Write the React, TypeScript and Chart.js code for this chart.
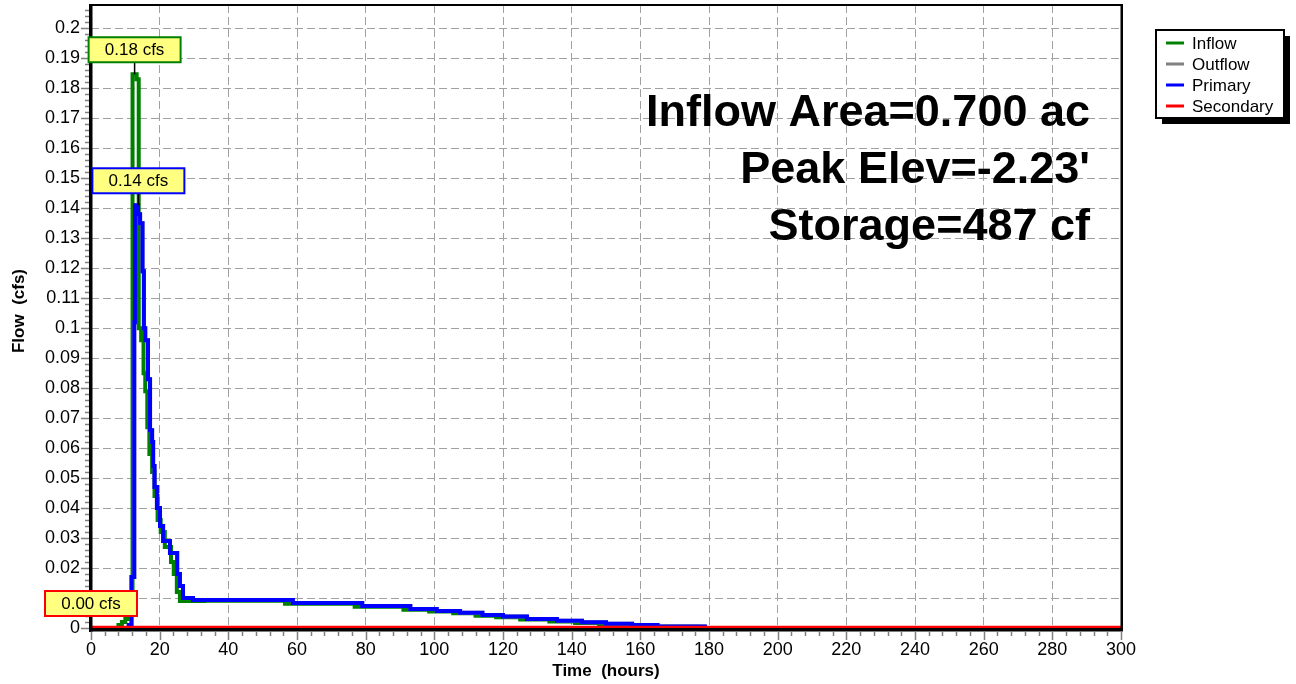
import React, { useEffect, useRef } from 'react';
import { Chart, registerables } from 'chart.js';

Chart.register(...registerables);

// ---- data (hours, cfs) : step values starting at each time ----
const inflowTime = [0, 8.0, 9.0, 10.0, 11.0, 11.6, 12.1, 13.3, 13.9, 14.6, 15.3, 15.8, 16.4, 17.0, 17.8, 18.5, 19.4, 20.3, 21.5, 23.3, 24.1, 25.0, 25.9, 33.0, 56.5, 76.8, 91.0, 98.5, 105.5, 112.0, 118.0, 125.0, 133.5, 141.0, 148.0, 155.5, 163.0, 177.0, 300];
const inflowFlow = [0, 0.001, 0.002, 0.003, 0.005, 0.012, 0.1847, 0.183, 0.1, 0.096, 0.085, 0.079, 0.067, 0.058, 0.052, 0.044, 0.036, 0.032, 0.027, 0.022, 0.018, 0.012, 0.009, 0.0091, 0.0081, 0.0071, 0.0061, 0.0055, 0.0049, 0.0041, 0.0036, 0.0028, 0.0022, 0.0017, 0.0012, 0.0008, 0.0004, 0, 0];

const primaryTime = [0, 11.0, 11.8, 12.6, 12.8, 13.7, 14.3, 15.0, 15.4, 15.8, 16.6, 17.2, 17.8, 18.1, 18.5, 19.2, 20.1, 21.0, 23.0, 25.1, 25.9, 26.8, 29.7, 58.8, 79.0, 93.0, 100.7, 107.5, 114.0, 120.0, 127.0, 135.7, 143.0, 150.0, 157.6, 165.0, 178.8, 300];
const primaryFlow = [0, 0.001, 0.017, 0.102, 0.141, 0.138, 0.135, 0.119, 0.1, 0.096, 0.083, 0.066, 0.062, 0.054, 0.047, 0.04, 0.034, 0.029, 0.025, 0.018, 0.014, 0.01, 0.0093, 0.0083, 0.0073, 0.0063, 0.0057, 0.0051, 0.0043, 0.0038, 0.003, 0.0024, 0.0019, 0.0014, 0.001, 0.0005, 0, 0];

const outflowTime = primaryTime;
const outflowFlow = primaryFlow;

const secondaryTime = [0, 300];
const secondaryFlow = [0, 0];

const xTicks = [0, 20, 40, 60, 80, 100, 120, 140, 160, 180, 200, 220, 240, 260, 280, 300];
const yTicks = [0, 0.01, 0.02, 0.03, 0.04, 0.05, 0.06, 0.07, 0.08, 0.09, 0.1, 0.11, 0.12, 0.13, 0.14, 0.15, 0.16, 0.17, 0.18, 0.19, 0.2];

const seriesNames = ['Inflow', 'Outflow', 'Primary', 'Secondary'];
const seriesColors = ['#008000', '#808080', '#0000ff', '#ff0000'];

const infoLines = ['Inflow Area=0.700 ac', "Peak Elev=-2.23'", 'Storage=487 cf'];

const peakLabels = ['0.18 cfs', '0.14 cfs', '0.00 cfs'];
const peakTimes = [12.7, 13.8, 0];
const peakFlows = [0.1847, 0.141, 0];
const peakBorders = ['#008000', '#0000ff', '#ff0000'];

const FONT = "'Liberation Sans', Arial, sans-serif";

function toPts(t: number[], v: number[]) {
  return t.map((x, i) => ({ x, y: v[i] }));
}

const overlay = {
  id: 'overlay',
  afterDatasetsDraw(chart: any) {
    const { ctx, chartArea: a, scales } = chart;
    const xs = scales.x, ys = scales.y;
    ctx.save();
    // frame
    ctx.fillStyle = '#000';
    ctx.fillRect(a.left, a.top - 1, a.right - a.left + 2, 2);
    ctx.fillRect(a.right - 0.5, a.top - 1, 2.5, a.bottom - a.top + 4);
    ctx.fillRect(a.left - 2, a.top - 1, 3.5, a.bottom - a.top + 5);
    ctx.fillRect(a.left - 2, a.bottom, a.right - a.left + 4, 3.5);
    // ticks
    ctx.strokeStyle = '#808080';
    ctx.lineWidth = 1.5;
    ctx.beginPath();
    for (let v = 0; v <= 300.001; v += 4) {
      const px = Math.round(xs.getPixelForValue(v)) + 0.5;
      const major = Math.abs(v / 20 - Math.round(v / 20)) < 1e-6;
      ctx.moveTo(px, a.bottom + 3.5);
      ctx.lineTo(px, a.bottom + (major ? 12 : 8));
    }
    for (let i = 0; i <= 103; i++) {
      const v = i * 0.002;
      if (v > ys.max) break;
      const py = Math.round(ys.getPixelForValue(v)) + 0.5;
      const major = i % 5 === 0;
      ctx.moveTo(a.left - 2, py);
      ctx.lineTo(a.left - (major ? 10 : 6), py);
    }
    ctx.stroke();

    // info text
    ctx.fillStyle = '#000';
    ctx.font = `bold 45px ${FONT}`;
    ctx.textAlign = 'right';
    ctx.textBaseline = 'alphabetic';
    infoLines.forEach((s, i) => ctx.fillText(s, 1090, 126 + i * 57));

    // peak labels
    ctx.font = `17px ${FONT}`;
    ctx.textAlign = 'center';
    ctx.textBaseline = 'middle';
    peakLabels.forEach((s, i) => {
      const px = xs.getPixelForValue(peakTimes[i]);
      const py = ys.getPixelForValue(peakFlows[i]);
      const w = 92, h = 25;
      const bottom = py - 12;
      ctx.strokeStyle = '#000';
      ctx.lineWidth = 1.5;
      ctx.beginPath();
      ctx.moveTo(px, bottom);
      ctx.lineTo(px, py);
      ctx.stroke();
      ctx.fillStyle = '#ffff80';
      ctx.fillRect(px - w / 2, bottom - h, w, h);
      ctx.strokeStyle = peakBorders[i];
      ctx.lineWidth = 2;
      ctx.strokeRect(px - w / 2, bottom - h, w, h);
      ctx.fillStyle = '#000';
      ctx.fillText(s, px, bottom - h / 2 + 1);
    });

    // axis titles
    ctx.font = `bold 17px ${FONT}`;
    ctx.textAlign = 'center';
    ctx.textBaseline = 'middle';
    ctx.fillText('Time  (hours)', (a.left + a.right) / 2, 671);
    ctx.save();
    ctx.translate(19, 311);
    ctx.rotate(-Math.PI / 2);
    ctx.fillText('Flow  (cfs)', 0, 0);
    ctx.restore();

    // legend
    const lx = 1156, ly = 30, lw = 128, lh = 88;
    ctx.fillStyle = '#000';
    ctx.fillRect(lx + 6, ly + 6, lw, lh);
    ctx.fillStyle = '#fff';
    ctx.fillRect(lx, ly, lw, lh);
    ctx.strokeStyle = '#000';
    ctx.lineWidth = 2;
    ctx.strokeRect(lx, ly, lw, lh);
    ctx.font = `17px ${FONT}`;
    ctx.textAlign = 'left';
    seriesNames.forEach((n, i) => {
      const yy = 43 + i * 21;
      ctx.strokeStyle = seriesColors[i];
      ctx.lineWidth = 3;
      ctx.beginPath();
      ctx.moveTo(1166, yy);
      ctx.lineTo(1184, yy);
      ctx.stroke();
      ctx.fillStyle = '#000';
      ctx.fillText(n, 1192, yy + 1);
    });
    ctx.restore();
  },
};

export default function App() {
  const ref = useRef<HTMLCanvasElement | null>(null);
  useEffect(() => {
    document.body.style.margin = '0';
    const canvas = ref.current!;
    const series = [
      toPts(inflowTime, inflowFlow),
      toPts(outflowTime, outflowFlow),
      toPts(primaryTime, primaryFlow),
      toPts(secondaryTime, secondaryFlow),
    ];
    const chart = new Chart(canvas, {
      type: 'line',
      data: {
        datasets: seriesNames.map((n, i) => ({
          label: n,
          data: series[i],
          borderColor: seriesColors[i],
          backgroundColor: seriesColors[i],
          borderWidth: i === 3 ? 4.5 : 4,
          pointRadius: 0,
          stepped: 'before' as const,
          fill: false,
          order: 4 - i,
        })),
      },
      options: {
        animation: false,
        responsive: false,
        layout: { padding: { left: 0, top: 5, right: 175, bottom: 0 } },
        plugins: { legend: { display: false }, tooltip: { enabled: false } },
        scales: {
          x: {
            type: 'linear',
            min: 0,
            max: 300,
            afterFit: (s: any) => {
              s.height = 56;
              s.paddingLeft = 0; s.paddingRight = 0; s.paddingTop = 0; s.paddingBottom = 0;
            },
            afterBuildTicks: (s: any) => { s.ticks = xTicks.map((v) => ({ value: v })); },
            grid: { color: '#a0a0a0', lineWidth: 1, drawTicks: false },
            border: { display: false, dash: [8, 4] },
            ticks: {
              color: '#000',
              font: { family: FONT, size: 18 },
              padding: 11,
              maxRotation: 0,
              autoSkip: false,
              callback: (v: any) => String(v),
            },
          },
          y: {
            type: 'linear',
            min: 0,
            max: 0.2078,
            afterFit: (s: any) => {
              s.width = 91;
              s.paddingLeft = 0; s.paddingRight = 0; s.paddingTop = 0; s.paddingBottom = 0;
            },
            afterBuildTicks: (s: any) => { s.ticks = yTicks.map((v) => ({ value: v })); },
            grid: { color: '#a0a0a0', lineWidth: 1, drawTicks: false },
            border: { display: false, dash: [8, 4] },
            ticks: {
              color: '#000',
              font: { family: FONT, size: 18 },
              padding: 11,
              autoSkip: false,
              callback: (v: any) => String(Number(Number(v).toFixed(2))),
            },
          },
        },
      },
      plugins: [overlay],
    });
    return () => chart.destroy();
  }, []);
  return <canvas ref={ref} width={1296} height={684} style={{ display: 'block' }} />;
}
